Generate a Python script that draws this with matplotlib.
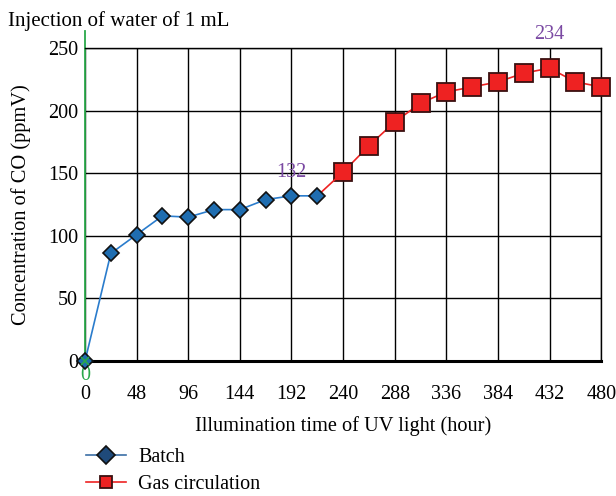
import matplotlib
matplotlib.use("Agg")
import matplotlib.pyplot as plt

# CO concentration under UV illumination
batch_hours = [0, 24, 48, 72, 96, 120, 144, 168, 192, 216]
batch_co = [0, 86, 101, 116, 115, 121, 121, 129, 132, 132]
gas_hours = [216, 240, 264, 288, 312, 336, 360, 384, 408, 432, 456, 480]
gas_co = [132, 151, 172, 191, 206, 215, 219, 223, 230, 234, 223, 219]
x_ticks = [0, 48, 96, 144, 192, 240, 288, 336, 384, 432, 480]
y_ticks = [0, 50, 100, 150, 200, 250]

plt.rcParams['font.family'] = ['Liberation Serif', 'DejaVu Serif']

fig = plt.figure(figsize=(6.16, 4.96), dpi=100)
ax = fig.add_axes([0.138, 0.272, 0.838, 0.631])

ax.set_xlim(0, 480)
ax.set_ylim(0, 250)
ax.set_xticks(x_ticks)
ax.set_yticks(y_ticks)
ax.grid(True, color='black', linewidth=1.0)
ax.set_axisbelow(True)
ax.tick_params(length=0, labelsize=14.5)
ax.tick_params(axis='x', pad=17)
ax.tick_params(axis='y', pad=5)

for s in ['top', 'right']:
    ax.spines[s].set_linewidth(1.0)
ax.spines['bottom'].set_linewidth(2.2)
ax.spines['left'].set_visible(False)

# green vertical axis running above the frame
ax.plot([0, 0], [0, 263.5], color='#2aa84a', lw=1.3, clip_on=False, zorder=2)

# gas circulation part first so batch markers stay on top at the join
gas_line, = ax.plot(gas_hours[1:], gas_co[1:], color='#ee2222', lw=1.2,
                    marker='s', ms=13, mfc='#ee2222', mec='#3a1010', mew=1.3,
                    clip_on=False, zorder=3)
ax.plot(gas_hours[:2], gas_co[:2], color='#ee2222', lw=1.2, zorder=3)
batch_line, = ax.plot(batch_hours, batch_co, color='#2a7ccc', lw=1.2,
                      marker='D', ms=8.5, mfc='#1f6db0', mec='#111111', mew=1.2,
                      clip_on=False, zorder=4)

ax.plot([0], [0], marker='x', color='#2aa84a', ms=6, mew=1.2, zorder=5, clip_on=False)
ax.text(0, -4, '0', color='#2aa84a', ha='center', va='top', fontsize=14.5)

ax.text(192, 143, '132', color='#7b4aa3', ha='center', va='bottom', fontsize=14.5)
ax.text(432, 253, '234', color='#7b4aa3', ha='center', va='bottom', fontsize=14.5)

ax.set_xlabel('Illumination time of UV light (hour)', fontsize=14.7, labelpad=9)
ax.set_ylabel('Concentration of CO (ppmV)', fontsize=14.7, labelpad=12)

fig.text(0.013, 0.978, 'Injection of water of 1 mL', fontsize=15, va='top')

batch_line.set_label('Batch')
gas_line.set_label('Gas circulation')
leg = fig.legend(handles=[batch_line, gas_line], loc='lower left',
                 bbox_to_anchor=(0.11, -0.032), frameon=False, fontsize=14.5,
                 handlelength=2.0, handletextpad=0.6, labelspacing=0.4)
for h in leg.legend_handles:
    h.set_markersize(9)
leg.legend_handles[0].set_markerfacecolor('#1f4a7a')
leg.legend_handles[0].set_color('#3b6ea5')
leg.legend_handles[0].set_markeredgecolor('#111111')

fig.savefig('out.png', dpi=100)
